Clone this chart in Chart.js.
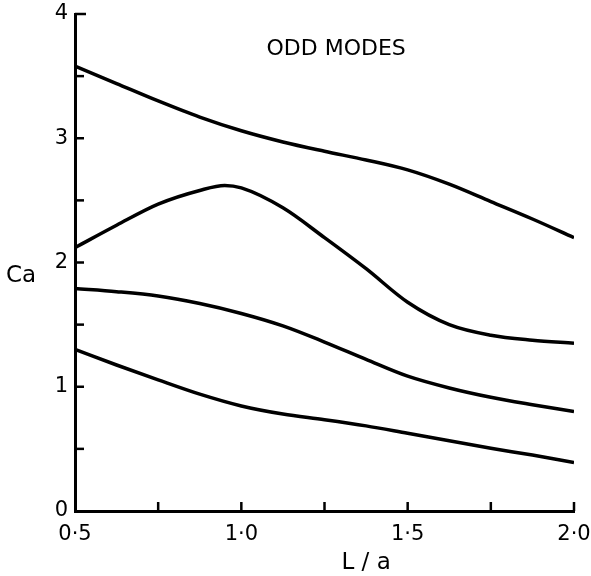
<!DOCTYPE html>
<html><head><meta charset="utf-8">
<script src="https://cdn.jsdelivr.net/npm/chart.js@4"></script>
<style>html,body{margin:0;padding:0;background:#fff}#wrap{width:591px;height:576px}</style>
</head><body><div id="wrap"><canvas id="c" width="591" height="576"></canvas></div>
<script>
const xGrid = [0.5,0.625,0.75,0.875,1.0,1.125,1.25,1.375,1.5,1.625,1.75,1.875,2.0];
const mode1 = [3.58,3.44,3.30,3.17,3.06,2.97,2.895,2.825,2.745,2.63,2.49,2.35,2.20];
const mode2X = [0.5,0.625,0.75,0.875,0.95,1.0,1.125,1.25,1.375,1.5,1.625,1.75,1.875,2.0];
const mode2 = [2.12,2.30,2.47,2.58,2.62,2.60,2.44,2.20,1.95,1.68,1.50,1.415,1.375,1.35];
const mode3 = [1.79,1.765,1.73,1.67,1.59,1.49,1.36,1.22,1.085,0.99,0.915,0.855,0.80];
const mode4 = [1.30,1.175,1.055,0.94,0.845,0.78,0.735,0.685,0.625,0.565,0.505,0.45,0.39];
const xTickValues = [0.5,0.75,1.0,1.25,1.5,1.75,2.0];
const yTickValues = [0,0.5,1,1.5,2,2.5,3,3.5,4];
const titleText = 'ODD MODES';
const xAxisLabel = 'L / a';
const yAxisLabel = 'Ca';

function pts(xs, ys){ return xs.map((x,i)=>({x:x, y:ys[i]})); }
function ds(data){
  return {data:data, showLine:true, borderColor:'#000', borderWidth:3.5, pointRadius:0,
          cubicInterpolationMode:'monotone', fill:false};
}

const FONT = '"DejaVu Sans", sans-serif';

const decor = {
  id:'decor',
  afterDraw(chart){
    const ctx = chart.ctx, xs = chart.scales.x, ys = chart.scales.y;
    ctx.save();
    ctx.strokeStyle = '#000'; ctx.lineWidth = 2.5; ctx.lineCap='butt';
    const bottom = ys.getPixelForValue(0), left = xs.getPixelForValue(0.5);
    xTickValues.forEach(v=>{ if(v===0.5) return; const p = xs.getPixelForValue(v);
      ctx.beginPath(); ctx.moveTo(p,bottom); ctx.lineTo(p,bottom-9); ctx.stroke(); });
    yTickValues.forEach(v=>{ if(v===0) return; const p = ys.getPixelForValue(v);
      ctx.beginPath(); ctx.moveTo(left,p); ctx.lineTo(left+(v===4?11:9),p); ctx.stroke(); });
    ctx.fillStyle = '#000';
    ctx.textAlign = 'center'; ctx.textBaseline = 'middle';
    ctx.font = '22px ' + FONT;
    ctx.fillText(titleText, xs.getPixelForValue(1.285), ys.getPixelForValue(3.72));
    ctx.font = '23px ' + FONT;
    ctx.fillText(xAxisLabel, xs.getPixelForValue(1.375), 563);
    ctx.fillText(yAxisLabel, 21, 276);
    ctx.restore();
  }
};

new Chart(document.getElementById('c'), {
  type:'scatter',
  data:{ datasets:[ ds(pts(xGrid,mode1)), ds(pts(mode2X,mode2)), ds(pts(xGrid,mode3)), ds(pts(xGrid,mode4)) ] },
  options:{
    responsive:false, animation:false,
    layout:{ padding:{ left:0, right:17, top:14, bottom:0 } },
    plugins:{ legend:{display:false}, tooltip:{enabled:false} },
    scales:{
      x:{ type:'linear', min:0.5, max:2.0,
          afterBuildTicks(s){ s.ticks = xTickValues.map(v=>({value:v})); },
          afterFit(s){ s.height = 65; s.paddingLeft = 0; s.paddingRight = 0; },
          grid:{ display:false, drawTicks:false },
          border:{ display:true, color:'#000', width:3 },
          ticks:{ padding:11, color:'#000', font:{family:FONT, size:21}, maxRotation:0, autoSkip:false,
                  callback:(v)=> (Math.abs(v*2-Math.round(v*2))<1e-9) ? v.toFixed(1).replace('.', '·') : '' } },
      y:{ type:'linear', min:0, max:4,
          afterBuildTicks(s){ s.ticks = yTickValues.map(v=>({value:v})); },
          afterFit(s){ s.width = 75; s.paddingTop = 0; s.paddingBottom = 0; },
          grid:{ display:false, drawTicks:false },
          border:{ display:true, color:'#000', width:3 },
          ticks:{ padding:7, color:'#000', font:{family:FONT, size:21}, autoSkip:false,
                  callback:(v)=> Number.isInteger(v) ? String(v) : '' } }
    }
  },
  plugins:[decor]
});
</script></body></html>
